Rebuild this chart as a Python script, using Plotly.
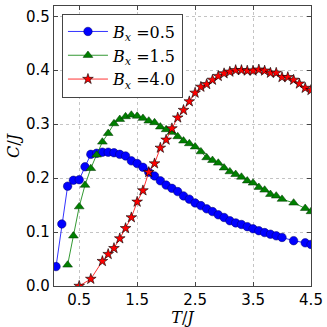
import plotly.graph_objects as go

# ---- data ----
x_b05 = [0.1, 0.2, 0.3, 0.4, 0.5, 0.6, 0.7, 0.8, 0.9, 1.0, 1.1, 1.2, 1.3, 1.4, 1.5, 1.6, 1.7, 1.8, 1.9, 2.0,
         2.1, 2.2, 2.3, 2.4, 2.5, 2.6, 2.7, 2.8, 2.9, 3.0, 3.1, 3.2, 3.3, 3.4, 3.5, 3.6, 3.7, 3.8, 3.9, 4.0,
         4.2, 4.4, 4.5]
c_b05 = [0.036, 0.115, 0.185, 0.196, 0.197, 0.221, 0.244, 0.246, 0.248, 0.248, 0.247, 0.244, 0.241, 0.232,
         0.227, 0.220, 0.211, 0.204, 0.195, 0.187, 0.181, 0.175, 0.167, 0.161, 0.154, 0.149, 0.143, 0.138,
         0.132, 0.127, 0.121, 0.117, 0.114, 0.110, 0.106, 0.1025, 0.099, 0.096, 0.093, 0.090, 0.084, 0.080,
         0.077]

x_b15 = [0.3, 0.4, 0.5, 0.6, 0.7, 0.8, 0.9, 1.0, 1.1, 1.2, 1.3, 1.4, 1.5, 1.6, 1.7, 1.8, 1.9, 2.0,
         2.1, 2.2, 2.3, 2.4, 2.5, 2.6, 2.7, 2.8, 2.9, 3.0, 3.1, 3.2, 3.3, 3.4, 3.5, 3.6, 3.7, 3.8, 3.9, 4.0,
         4.2, 4.4, 4.5]
c_b15 = [0.039, 0.093, 0.147, 0.187, 0.218, 0.243, 0.267, 0.283, 0.301, 0.309, 0.314, 0.317, 0.315, 0.311,
         0.306, 0.303, 0.295, 0.290, 0.285, 0.277, 0.269, 0.264, 0.258, 0.249, 0.238, 0.233, 0.228, 0.219,
         0.212, 0.207, 0.202, 0.195, 0.191, 0.183, 0.178, 0.170, 0.167, 0.161, 0.154, 0.144, 0.138]

x_b40 = [0.5, 0.7, 0.9, 1.0, 1.1, 1.2, 1.3, 1.4, 1.5, 1.6, 1.7, 1.8, 1.9, 2.0,
         2.1, 2.2, 2.3, 2.4, 2.5, 2.6, 2.7, 2.8, 2.9, 3.0, 3.1, 3.2, 3.3, 3.4, 3.5, 3.6, 3.7, 3.8, 3.9, 4.0,
         4.1, 4.2, 4.3, 4.4, 4.5]
c_b40 = [0.0, 0.013, 0.046, 0.059, 0.070, 0.088, 0.107, 0.127, 0.156, 0.177, 0.211, 0.227, 0.256, 0.271,
         0.292, 0.312, 0.326, 0.342, 0.358, 0.369, 0.374, 0.382, 0.389, 0.394, 0.397, 0.400, 0.400, 0.399,
         0.399, 0.401, 0.399, 0.395, 0.395, 0.387, 0.387, 0.382, 0.375, 0.367, 0.363]

x_ticks = [0.5, 1.5, 2.5, 3.5, 4.5]
y_ticks = [0.0, 0.1, 0.2, 0.3, 0.4, 0.5]
labels = ["<i>B</i><sub><i>x</i></sub> =0.5", "<i>B</i><sub><i>x</i></sub> =1.5", "<i>B</i><sub><i>x</i></sub> =4.0"]

fig = go.Figure()
fig.add_trace(go.Scatter(x=x_b05, y=c_b05, mode="lines+markers", name=labels[0],
                         line=dict(color="rgba(0,0,255,0.8)", width=1),
                         marker=dict(symbol="circle", size=8.5, color="#0000ff",
                                     line=dict(color="#000066", width=0.5))))
fig.add_trace(go.Scatter(x=x_b15, y=c_b15, mode="lines+markers", name=labels[1],
                         line=dict(color="rgba(0,128,0,0.8)", width=1),
                         marker=dict(symbol="triangle-up", size=8.5, color="#008000",
                                     line=dict(color="#003300", width=0.5))))
fig.add_trace(go.Scatter(x=x_b40, y=c_b40, mode="lines+markers", name=labels[2],
                         line=dict(color="rgba(255,0,0,0.8)", width=1),
                         marker=dict(symbol="star", size=8, color="#ff0000",
                                     line=dict(color="#000000", width=0.6))))

axis_common = dict(showline=True, linecolor="#444444", linewidth=1.2, mirror="ticks",
                   ticks="inside", ticklen=4, tickcolor="#444444",
                   showgrid=True, gridcolor="#c4c4c4", griddash="dot", gridwidth=1,
                   zeroline=False,
                   tickfont=dict(family="DejaVu Sans", size=15, color="black"))

fig.update_xaxes(range=[0.065, 4.5], tickvals=x_ticks, ticktext=[f"{v:.1f}" for v in x_ticks],
                 title=dict(text="<i>T</i>/<i>J</i>", font=dict(family="DejaVu Serif", size=16, color="black"),
                            standoff=2),
                 **axis_common)
fig.update_yaxes(range=[0, 0.519], tickvals=y_ticks, ticktext=[f"{v:.1f}" for v in y_ticks],
                 title=dict(text="<i>C</i>/<i>J</i>", font=dict(family="DejaVu Serif", size=16, color="black"),
                            standoff=2),
                 **axis_common)

fig.update_layout(width=327, height=327,
                  margin=dict(l=54, r=16, t=6, b=41, autoexpand=False),
                  plot_bgcolor="white", paper_bgcolor="white",
                  legend=dict(x=0.031, y=0.973, xanchor="left", yanchor="top",
                              bgcolor="white", bordercolor="#444444", borderwidth=1,
                              font=dict(family="DejaVu Serif", size=16, color="black"),
                              itemwidth=40, tracegroupgap=0),
                  showlegend=True)

fig.write_html("out.html", config={"displayModeBar": False},
               post_script="document.body.style.margin='0';document.body.style.padding='0';document.body.style.overflow='hidden';")
